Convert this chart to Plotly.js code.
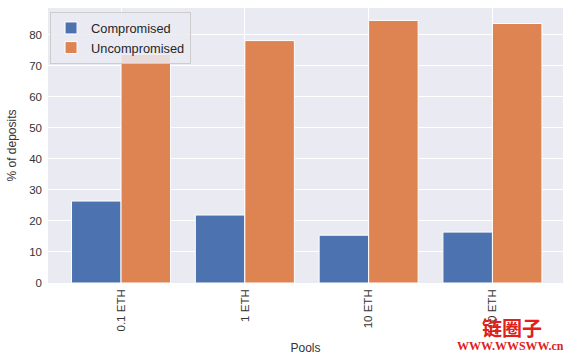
<!DOCTYPE html>
<html><head><meta charset="utf-8">
<script src="https://cdn.plot.ly/plotly-3.0.1.min.js"></script>
<style>body{margin:0;padding:0;background:#fff}#c{width:573px;height:355px}</style>
</head><body><div id="c"></div>
<script>
const pools = ["0.1 ETH", "1 ETH", "10 ETH", "100 ETH"];
const compromised = [26.4, 21.9, 15.4, 16.4];
const uncompromised = [73.6, 78.1, 84.6, 83.6];
const seriesNames = ["Compromised", "Uncompromised"];

const traces = [
  {type: "bar", x: pools, y: compromised, name: seriesNames[0],
   marker: {color: "#4C72B0", line: {color: "#ffffff", width: 1}}},
  {type: "bar", x: pools, y: uncompromised, name: seriesNames[1],
   marker: {color: "#DD8452", line: {color: "#ffffff", width: 1}}}
];
const font = {family: "Liberation Sans, Arial, sans-serif", color: "#333"};
const layout = {
  width: 573, height: 355,
  margin: {l: 48, r: 10, t: 8, b: 72},
  paper_bgcolor: "#ffffff", plot_bgcolor: "#EAEAF2",
  font: font,
  barmode: "group", bargap: 0.2, bargroupgap: 0,
  showlegend: true,
  legend: {x: 0.004, y: 0.985, xanchor: "left", yanchor: "top",
    bgcolor: "rgba(234,234,242,0.85)", bordercolor: "#cccccc", borderwidth: 1,
    tracegroupgap: 0,
    font: {family: font.family, size: 12.8, color: "#262626"}},
  xaxis: {type: "category", range: [-0.59, 3.57], tickangle: -90,
    showgrid: true, gridcolor: "#ffffff", gridwidth: 1, zeroline: false,
    ticks: "", ticklabelstandoff: 3, tickfont: {size: 11.5, color: "#333"},
    title: {text: "Pools", font: {size: 12, color: "#333"}, standoff: 9}},
  yaxis: {range: [0, 88.6], dtick: 10, showgrid: true, gridcolor: "#ffffff", gridwidth: 1,
    zeroline: false, ticks: "", ticklabelstandoff: 5, tickfont: {size: 11.5, color: "#333"},
    title: {text: "% of deposits", font: {size: 12, color: "#333"}, standoff: 10}},
  annotations: [
    {xref: "paper", yref: "paper", x: 0.901, y: -0.16, xanchor: "center", yanchor: "middle",
     text: "<b>链圈子</b>", showarrow: false,
     font: {family: "Noto Sans CJK SC", size: 20, color: "#e0201a"}},
    {xref: "paper", yref: "paper", x: 0.899, y: -0.229, xanchor: "center", yanchor: "middle",
     text: "<b>WWW.WWSWW.cn</b>", showarrow: false,
     font: {family: "Liberation Serif", size: 12, color: "#e0201a"}}
  ]
};
Plotly.newPlot("c", traces, layout, {displayModeBar: false, staticPlot: true});
</script></body></html>
